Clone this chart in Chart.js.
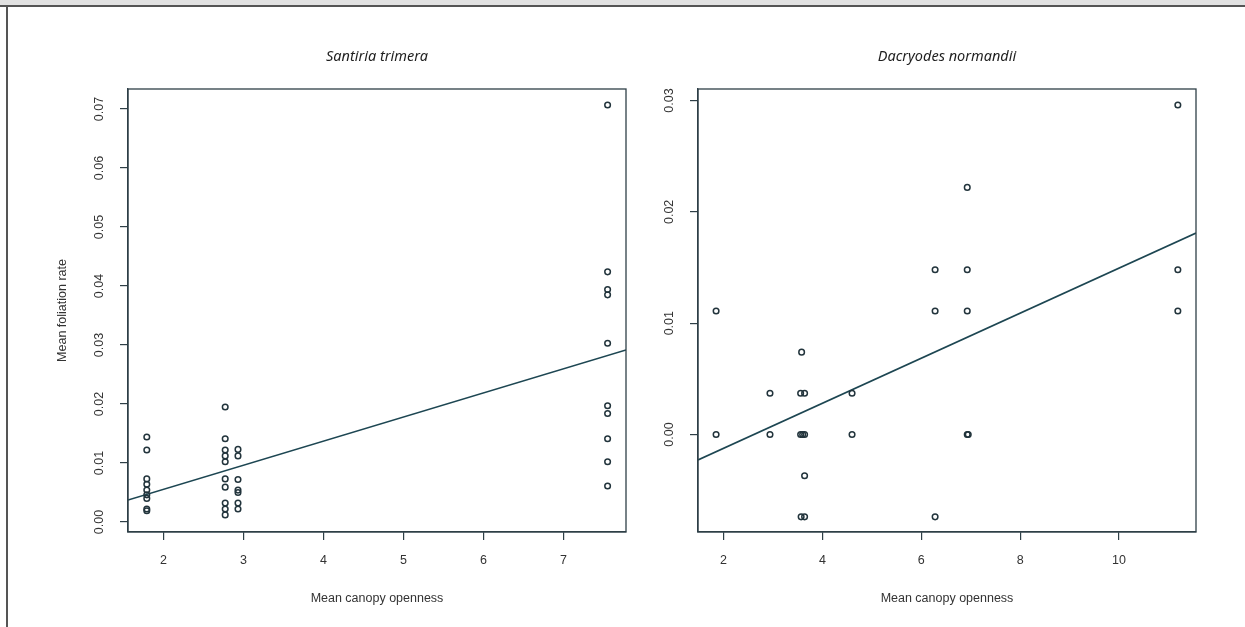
<!DOCTYPE html>
<html>
<head>
<meta charset="utf-8">
<script src="https://cdn.jsdelivr.net/npm/chart.js@4.4.1/dist/chart.umd.min.js"></script>
<style>
  html, body { margin: 0; padding: 0; background: #ffffff; }
  body { width: 1245px; height: 627px; position: relative; overflow: hidden; }
  #band { position: absolute; left: 0; top: 0; width: 1245px; height: 5px; background: #e2e2e2; }
  #topline { position: absolute; left: 0; top: 5px; width: 1245px; height: 2px; background: #555555; }
  #leftline { position: absolute; left: 6px; top: 5px; width: 2px; height: 622px; background: #555555; }
  #c1 { position: absolute; left: 0; top: 0; }
  #c2 { position: absolute; left: 640px; top: 0; }
</style>
</head>
<body>
<div id="band"></div>
<div id="topline"></div>
<div id="leftline"></div>
<canvas id="c1" width="640" height="627"></canvas>
<canvas id="c2" width="605" height="627"></canvas>
<script>
// ---- Santiria trimera ----
const santiriaTitle = "Santiria trimera";
const santiriaX = [
  1.79, 1.79, 1.79, 1.79, 1.79, 1.79, 1.79, 1.79, 1.79,
  2.77, 2.77, 2.77, 2.77, 2.77, 2.77, 2.77, 2.77, 2.77, 2.77,
  2.93, 2.93, 2.93, 2.93, 2.93, 2.93, 2.93,
  7.55, 7.55, 7.55, 7.55, 7.55, 7.55, 7.55, 7.55, 7.55, 7.55
];
const santiriaY = [
  0.0144, 0.0122, 0.0073, 0.0064, 0.0054, 0.0046, 0.0040, 0.0022, 0.0019,
  0.0195, 0.0141, 0.0122, 0.0112, 0.0102, 0.0073, 0.0059, 0.0032, 0.0022, 0.0012,
  0.0123, 0.0112, 0.0072, 0.0054, 0.0050, 0.0032, 0.0022,
  0.0707, 0.0424, 0.0394, 0.0385, 0.0303, 0.0197, 0.0184, 0.0141, 0.0102, 0.0061
];
const santiriaFitX = [1.555, 7.78];
const santiriaFitY = [0.00373, 0.02915];
const santiriaXTicks = [2, 3, 4, 5, 6, 7];
const santiriaXTickLabels = ["2", "3", "4", "5", "6", "7"];
const santiriaYTicks = [0, 0.01, 0.02, 0.03, 0.04, 0.05, 0.06, 0.07];
const santiriaYTickLabels = ["0.00", "0.01", "0.02", "0.03", "0.04", "0.05", "0.06", "0.07"];
const santiriaXRange = [1.555, 7.78];
const santiriaYRange = [-0.0017, 0.0734];

// ---- Dacryodes normandii ----
const dacryodesTitle = "Dacryodes normandii";
const dacryodesX = [
  1.85, 1.85,
  2.94, 2.94,
  3.58, 3.56, 3.64, 3.56, 3.60, 3.64, 3.64, 3.57, 3.64,
  4.60, 4.60,
  6.28, 6.28, 6.28,
  6.93, 6.93, 6.93, 6.93, 6.95,
  11.19, 11.19, 11.19
];
const dacryodesY = [
  0.0111, 0.0,
  0.0037, 0.0,
  0.0074, 0.0037, 0.0037, 0.0, 0.0, 0.0, -0.0037, -0.0074, -0.0074,
  0.0037, 0.0,
  0.0148, 0.0111, -0.0074,
  0.0222, 0.0148, 0.0111, 0.0, 0.0,
  0.0296, 0.0148, 0.0111
];
const dacryodesFitX = [1.484, 11.557];
const dacryodesFitY = [-0.00229, 0.0181];
const dacryodesXTicks = [2, 4, 6, 8, 10];
const dacryodesXTickLabels = ["2", "4", "6", "8", "10"];
const dacryodesYTicks = [0, 0.01, 0.02, 0.03];
const dacryodesYTickLabels = ["0.00", "0.01", "0.02", "0.03"];
const dacryodesXRange = [1.484, 11.557];
const dacryodesYRange = [-0.00876, 0.03104];

const xAxisTitle = "Mean canopy openness";
const yAxisTitle = "Mean foliation rate";

const INK = '#22343c';
const LINE = '#1d4652';
const TEXT = '#333333';
const FONT = "'Liberation Sans', Arial, sans-serif";

function zip(xs, ys) { return xs.map((x, i) => ({ x: x, y: ys[i] })); }

function decorPlugin(title, yTicks, yLabels, yTitle) {
  return {
    id: 'decor',
    afterDraw(chart) {
      const ctx = chart.ctx;
      const a = chart.chartArea;
      const ys = chart.scales.y;
      ctx.save();
      // box
      ctx.strokeStyle = '#2e3f47';
      ctx.lineWidth = 1.3;
      ctx.strokeRect(a.left, a.top, a.right - a.left, a.bottom - a.top);
      // title
      ctx.fillStyle = '#1e1e1e';
      ctx.font = "italic 14.5px 'Noto Sans', 'Open Sans', sans-serif";
      ctx.textAlign = 'center';
      ctx.textBaseline = 'middle';
      ctx.fillText(title, (a.left + a.right) / 2, a.top - 32);
      // x axis title
      ctx.fillStyle = TEXT;
      ctx.font = "12.5px " + FONT;
      ctx.fillText(xAxisTitle, (a.left + a.right) / 2, a.bottom + 67);
      // y tick labels (rotated, R style)
      ctx.font = "12.5px " + FONT;
      yTicks.forEach((v, i) => {
        const py = ys.getPixelForValue(v);
        ctx.save();
        ctx.translate(a.left - 28, py);
        ctx.rotate(-Math.PI / 2);
        ctx.fillText(yLabels[i], 0, 0);
        ctx.restore();
      });
      // y axis title
      if (yTitle) {
        ctx.font = "12.5px " + FONT;
        ctx.save();
        ctx.translate(a.left - 65, (a.top + a.bottom) / 2);
        ctx.rotate(-Math.PI / 2);
        ctx.fillText(yTitle, 0, 0);
        ctx.restore();
      }
      ctx.restore();
    }
  };
}

function makeChart(canvasId, opts) {
  const ctx = document.getElementById(canvasId).getContext('2d');
  return new Chart(ctx, {
    type: 'scatter',
    data: {
      datasets: [
        {
          type: 'scatter',
          data: zip(opts.xs, opts.ys),
          pointStyle: 'circle',
          pointRadius: 2.8,
          pointBorderWidth: 1.5,
          pointBorderColor: INK,
          pointBackgroundColor: 'rgba(0,0,0,0)',
          showLine: false
        },
        {
          type: 'line',
          data: zip(opts.fitX, opts.fitY),
          borderColor: LINE,
          borderWidth: 1.6,
          pointRadius: 0,
          fill: false,
          tension: 0
        }
      ]
    },
    options: {
      responsive: false,
      animation: false,
      events: [],
      layout: { padding: { top: 89, right: opts.padRight, bottom: 0, left: 0 } },
      plugins: { legend: { display: false }, tooltip: { enabled: false }, title: { display: false } },
      scales: {
        x: {
          type: 'linear',
          position: 'bottom',
          min: opts.xRange[0],
          max: opts.xRange[1],
          afterBuildTicks: (s) => { s.ticks = opts.xTicks.map(v => ({ value: v })); },
          afterFit: (s) => { s.height = 95; },
          grid: { drawOnChartArea: false, drawTicks: true, tickLength: 8, color: '#2e3f47', lineWidth: 1.2 },
          border: { display: true, color: '#2e3f47', width: 1.3 },
          ticks: {
            color: TEXT,
            font: { family: FONT, size: 12.5 },
            padding: 13,
            maxRotation: 0,
            autoSkip: false,
            callback: (v) => { const i = opts.xTicks.indexOf(v); return i >= 0 ? opts.xTickLabels[i] : ''; }
          }
        },
        y: {
          type: 'linear',
          position: 'left',
          min: opts.yRange[0],
          max: opts.yRange[1],
          afterBuildTicks: (s) => { s.ticks = opts.yTicks.map(v => ({ value: v })); },
          afterFit: (s) => { s.width = opts.yWidth; },
          grid: { drawOnChartArea: false, drawTicks: true, tickLength: 8, color: '#2e3f47', lineWidth: 1.2 },
          border: { display: true, color: '#2e3f47', width: 1.3 },
          ticks: { display: false }
        }
      }
    },
    plugins: [decorPlugin(opts.title, opts.yTicks, opts.yTickLabels, opts.yTitle)]
  });
}

makeChart('c1', {
  xs: santiriaX, ys: santiriaY, fitX: santiriaFitX, fitY: santiriaFitY,
  xTicks: santiriaXTicks, xTickLabels: santiriaXTickLabels,
  yTicks: santiriaYTicks, yTickLabels: santiriaYTickLabels,
  xRange: santiriaXRange, yRange: santiriaYRange,
  padRight: 14, yWidth: 128, title: santiriaTitle, yTitle: yAxisTitle
});

makeChart('c2', {
  xs: dacryodesX, ys: dacryodesY, fitX: dacryodesFitX, fitY: dacryodesFitY,
  xTicks: dacryodesXTicks, xTickLabels: dacryodesXTickLabels,
  yTicks: dacryodesYTicks, yTickLabels: dacryodesYTickLabels,
  xRange: dacryodesXRange, yRange: dacryodesYRange,
  padRight: 49, yWidth: 58, title: dacryodesTitle, yTitle: null
});
</script>
</body>
</html>
